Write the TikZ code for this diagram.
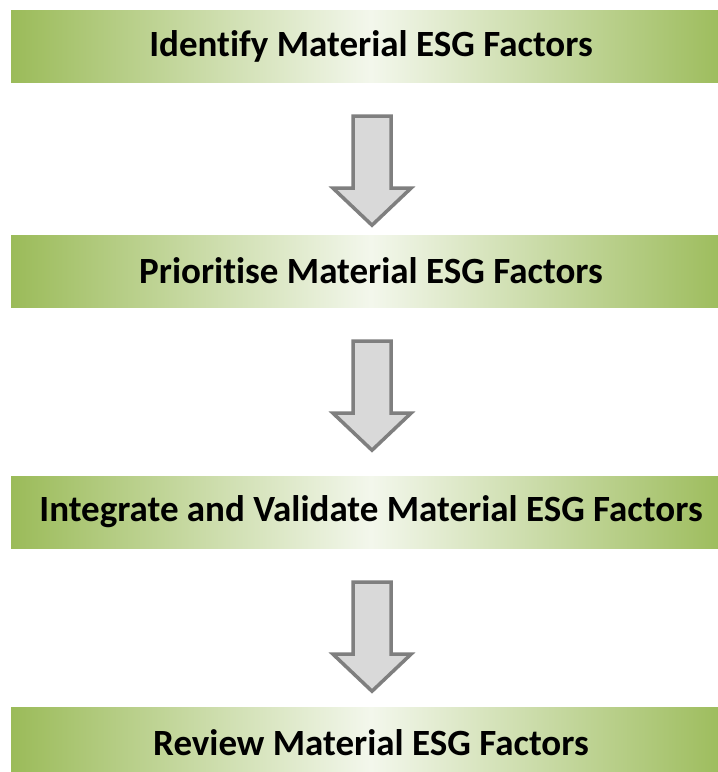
\documentclass[tikz,border=0pt]{standalone}
\usepackage{fontspec}
\setmainfont{Carlito}[Ligatures=NoCommon]
\usepackage{tikz}
\usetikzlibrary{positioning,calc}

\definecolor{esggreen}{HTML}{9BBB59}
\definecolor{esglight}{HTML}{F3F7EC}
\definecolor{arrowfill}{HTML}{D9D9D9}
\definecolor{arrowline}{HTML}{7F7F7F}

\tikzset{
    stage/.style={minimum width=720pt, minimum height=72pt, inner sep=0pt,
        left color=esggreen, right color=esggreen, middle color=esglight,
        font=\fontsize{37}{40}\selectfont\bfseries},
    downarrow/.style={fill=arrowfill, draw=arrowline, line width=3.5pt, line join=miter}
}

\begin{document}
\begin{tikzpicture}[x=1pt, y=-1pt]
    \clip (0,0) rectangle (718,772);
    \fill[white] (0,0) rectangle (718,772);

    % Stages
    \node[stage] (s1) at (371,46) {Identify Material ESG Factors};
    \node[stage] (s2) at (371,271) {Prioritise Material ESG Factors};
    \node[stage] (s3) at (371,512) {Integrate and Validate Material ESG Factors};
    \node[stage] (s4) at (371,743) {Review Material ESG Factors};

    % Arrows
    \foreach \a/\b in {s1/s2, s2/s3, s3/s4}
        \draw[downarrow] ([xshift=1pt,yshift=-34pt]\a.south) ++(-19,0) -- ++(38,0) -- ++(0,72)
            -- ++(20,0) -- ++(-39,37) -- ++(-39,-37) -- ++(20,0) -- cycle;
\end{tikzpicture}
\end{document}
